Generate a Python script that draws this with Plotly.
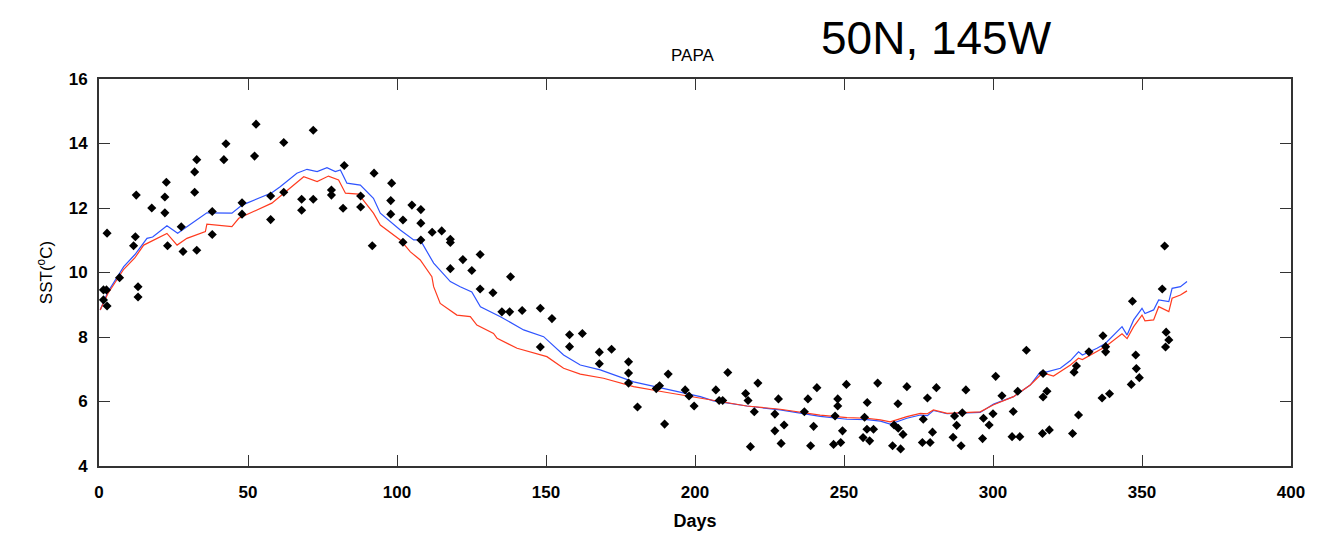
import plotly.graph_objects as go

# Observed SST points (day, value)
obs_day = [52.7, 71.9, 42.6, 62, 32.8, 41.9, 32.1, 52.2, 22.6, 22.1, 12.5, 32.1, 17.7, 22.1, 2.7, 12.2, 11.6, 23,
           27.6, 28.2, 32.8, 38, 38, 48, 48, 57.6, 57.6, 62, 68, 68, 71.9, 78, 78, 81.9, 82.3, 87.8, 87.8, 92.3,
           91.7, 98.2, 97.9, 97.9, 102, 102, 105, 6.9, 13.1, 13.1, 1.5, 2.5, 1.5, 2.7,
           108, 108, 108, 111.8, 115, 117.9, 117.9, 122.1, 127.9, 117.9, 125.1, 127.9, 132.2, 138.1, 135.2, 137.8,
           142, 148.1, 152, 148.1, 157.9, 162.2, 157.9, 167.9, 172, 167.9, 177.7, 177.7, 177.7, 191, 180.7, 187,
           188.1, 189.8, 196.7, 198, 199.7,
           211, 207, 208.1, 209.3, 217, 217.8, 221.1, 219.9, 218.6, 228, 226.8, 229.9, 226.8, 228.9, 237.9, 240.9,
           236.7, 239.8, 238.8, 247.9, 247.9, 250.8, 247, 249.5, 248.9, 246.5, 261.3, 257.8, 256.9, 257.7, 259.9,
           256.4, 258.6, 271.1, 268.1, 266.8, 268.2, 269.8, 266.3, 269, 281, 278, 276.6, 279.7, 276.3, 278.9, 290.9,
           287.1, 289.7, 287.8, 286.6, 289.3, 300.9, 300, 296.8, 298.7, 296.5,
           303, 311.2, 308.3, 306.8, 306.4, 309, 316.8, 316.8, 318.1, 316.6, 318.9, 328, 327.2, 328.7, 326.7, 332.2,
           336.9, 337.8, 337.8, 336.6, 339.1, 346.8, 347.9, 348.1, 349.1, 346.4, 357.6, 356.8, 358.1, 359, 357.9]
obs_sst = [14.6, 14.41, 13.99, 14.03, 13.5, 13.5, 13.12, 13.61, 12.8, 12.34, 12.4, 12.49, 12.0, 11.85, 11.22, 11.11,
           10.83, 10.83, 11.42, 10.65, 10.69, 11.89, 11.18, 12.16, 11.81, 12.37, 11.64, 12.49, 12.27, 11.93, 12.27,
           12.56, 12.4, 11.99, 13.32, 12.37, 12.03, 13.08, 10.83, 12.77, 12.23, 11.81, 11.63, 10.94, 12.09, 9.84,
           9.56, 9.24, 9.46, 9.46, 9.15, 8.96,
           11.95, 11.53, 11.01, 11.25, 11.29, 11.03, 10.93, 10.4, 10.56, 10.12, 10.06, 9.49, 9.37, 9.87, 8.78, 8.78,
           8.82, 8.89, 8.57, 7.69, 8.07, 8.11, 7.7, 7.53, 7.62, 7.17, 7.23, 6.88, 6.57, 6.85, 5.83, 6.4,
           6.49, 5.3, 6.36, 6.17, 5.86,
           6.9, 6.36, 6.03, 6.03, 6.25, 6.03, 6.57, 5.68, 4.6, 6.08, 5.61, 5.27, 5.09, 4.7, 6.08, 6.43,
           5.68, 5.23, 4.63, 6.08, 5.86, 6.53, 5.55, 5.09, 4.73, 4.67, 6.57, 5.97, 5.51, 5.14, 5.14,
           4.88, 4.78, 6.46, 5.93, 5.27, 5.17, 4.98, 4.63, 4.53, 6.43, 6.11, 5.45, 5.05, 4.73, 4.73, 6.36,
           5.55, 5.65, 5.26, 4.89, 4.63, 6.78, 5.62, 5.48, 5.27, 4.85,
           6.18, 7.59, 6.32, 5.69, 4.91, 4.91, 6.87, 6.14, 6.32, 5.01, 5.12, 7.1, 6.91, 5.58, 5.01, 7.54,
           8.04, 7.7, 7.54, 6.11, 6.24, 9.11, 7.44, 7.02, 6.74, 6.53, 10.82, 9.49, 8.15, 7.91, 7.69]

# Model run 1 (blue)
blue_day = [0.4, 3, 8.3, 12, 16.1, 18, 22.8, 26.4, 29.5, 36.2, 44.6, 48, 58, 60.8, 66.4, 69.8, 73.2, 76.5, 79.3,
            81, 83.2, 87.7, 92.1, 94.4, 101.1, 105.6, 107.8, 112.3, 117.9, 121.2, 125.1, 128, 134.7, 142.5, 149.2,
            155.9, 161.5, 168.2, 179.4, 190.6, 201.8, 206.2, 217.4, 228.6, 237.6, 242, 251, 257.7, 262.2, 265.5,
            271.1, 275.6, 278, 280, 284.6, 290.1, 295.7, 300.2, 306.9, 312.5, 315.9, 318.1, 322.6, 326, 328.7,
            330, 334.9, 337.7, 343.3, 345, 347.2, 350, 351, 353.9, 355.6, 359, 360.1, 362.9, 365.1]
blue_sst = [8.84, 9.4, 10.18, 10.55, 11.06, 11.1, 11.45, 11.22, 11.42, 11.85, 11.84, 12.09, 12.47, 12.66, 13.08,
            13.2, 13.13, 13.25, 13.13, 13.18, 12.77, 12.71, 12.3, 11.84, 11.32, 11.01, 11.01, 10.29, 9.72, 9.56,
            9.4, 8.94, 8.63, 8.22, 8.01, 7.44, 7.13, 6.98, 6.61, 6.38, 6.15, 6.02, 5.86, 5.74, 5.62, 5.54, 5.45,
            5.44, 5.39, 5.3, 5.48, 5.58, 5.56, 5.72, 5.62, 5.64, 5.66, 5.92, 6.15, 6.51, 6.92, 6.92, 7.03, 7.27,
            7.54, 7.44, 7.65, 7.8, 8.32, 8.06, 8.53, 8.89, 8.73, 8.84, 9.15, 9.1, 9.51, 9.56, 9.72]

# Model run 2 (red)
red_day = [0.4, 3, 8.3, 12, 15, 22.8, 26.2, 29.5, 35.7, 36.2, 44.6, 46.9, 58, 62, 68.7, 73.2, 77, 80.4, 82.7,
           87.1, 92.1, 94.4, 101.1, 104.5, 107.8, 111.7, 112.3, 114.5, 120.1, 124.6, 126.8, 132.4, 133.6, 140.3,
           150.3, 155.9, 161.5, 169.3, 179.4, 190.6, 201.8, 206.2, 217.4, 228.6, 237.6, 242, 251, 257.7, 262.2,
           265.5, 271.1, 275.6, 278, 280, 284.6, 290.1, 295.7, 300.2, 306.9, 312.5, 315.9, 318.1, 320.3, 326,
           328.7, 330, 334.9, 337.7, 343.3, 345, 347.2, 350, 351, 353.9, 355.6, 359, 360.1, 362.9, 365.1]
red_sst = [8.84, 9.35, 10.1, 10.45, 10.85, 11.21, 10.85, 11.06, 11.27, 11.5, 11.42, 11.68, 12.15, 12.46, 12.97,
           12.82, 12.99, 12.87, 12.46, 12.43, 11.84, 11.47, 11.01, 10.64, 10.39, 9.87, 9.56, 9.04, 8.68, 8.63,
           8.37, 8.11, 7.96, 7.65, 7.39, 7.03, 6.85, 6.72, 6.46, 6.28, 6.1, 6.02, 5.86, 5.76, 5.65, 5.58, 5.5,
           5.48, 5.43, 5.37, 5.53, 5.63, 5.62, 5.74, 5.63, 5.65, 5.68, 5.9, 6.15, 6.51, 6.82, 6.85, 6.79, 7.13,
           7.34, 7.3, 7.54, 7.7, 8.1, 7.95, 8.32, 8.68, 8.5, 8.53, 8.94, 8.79, 9.2, 9.3, 9.43]

x_ticks = [0, 50, 100, 150, 200, 250, 300, 350, 400]
y_ticks = [4, 6, 8, 10, 12, 14, 16]

fig = go.Figure()
fig.add_trace(go.Scatter(x=blue_day, y=blue_sst, mode="lines",
                         line=dict(color="#2f54ff", width=1.2), showlegend=False))
fig.add_trace(go.Scatter(x=red_day, y=red_sst, mode="lines",
                         line=dict(color="#ff3b1f", width=1.2), showlegend=False))
fig.add_trace(go.Scatter(x=obs_day, y=obs_sst, mode="markers",
                         marker=dict(symbol="diamond", size=7, color="black"), showlegend=False))

font_main = "Liberation Sans, Arial, sans-serif"
axis_common = dict(showgrid=False, zeroline=False, showline=True, linecolor="#333333", linewidth=2,
                   mirror="ticks", ticks="inside", ticklen=11, tickwidth=1, tickcolor="#333333",
                   automargin=False,
                   tickfont=dict(family=font_main, size=17, color="black", weight="bold"))

fig.update_layout(
    width=1328, height=536,
    margin=dict(l=99, r=37, t=79, b=70),
    paper_bgcolor="white", plot_bgcolor="white",
    xaxis=dict(range=[0, 400], tickvals=x_ticks, ticktext=[str(v) for v in x_ticks],
               ticklabelstandoff=10,
               title=dict(text="Days", font=dict(family=font_main, size=18, color="black", weight="bold"),
                          standoff=13),
               **axis_common),
    yaxis=dict(range=[4, 16], tickvals=y_ticks, ticktext=[str(v) for v in y_ticks],
               ticklabelstandoff=6,
               title=dict(text="SST(<sup>o</sup>C)", font=dict(family=font_main, size=17, color="black"),
                          standoff=12),
               **axis_common),
    annotations=[
        dict(text="PAPA", x=0.498, y=1.062, xref="paper", yref="paper", showarrow=False,
             xanchor="center", yanchor="middle",
             font=dict(family=font_main, size=17, color="black")),
        dict(text="50N, 145W", x=0.703, y=1.106, xref="paper", yref="paper", showarrow=False,
             xanchor="center", yanchor="middle",
             font=dict(family=font_main, size=46, color="black")),
    ],
)

fig.write_html("out.html")
